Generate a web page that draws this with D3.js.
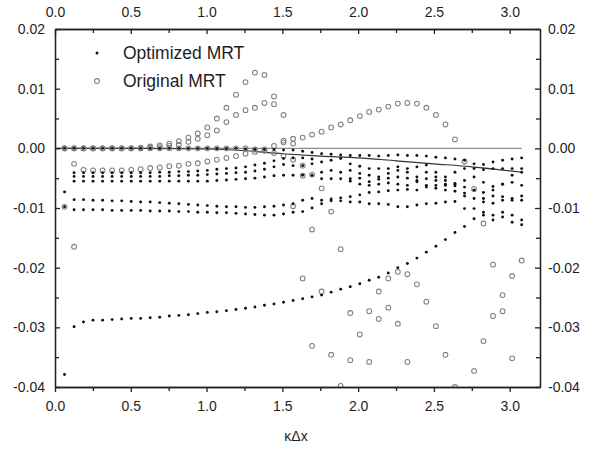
<!DOCTYPE html>
<html>
<head>
<meta charset="utf-8">
<script src="https://cdn.jsdelivr.net/npm/d3@7"></script>
<style>
  body { margin: 0; background: #fff; }
  text { font-family: "Liberation Sans", Arial, sans-serif; fill: #1e1e1e; }
</style>
</head>
<body>
<svg id="chart" width="590" height="450"></svg>
<script>
// kappa * dx grid (49 points)
const kx = [0.063,0.126,0.188,0.251,0.314,0.377,0.440,0.503,0.565,0.628,
            0.691,0.754,0.817,0.880,0.942,1.005,1.068,1.131,1.194,1.257,
            1.319,1.382,1.445,1.508,1.571,1.634,1.696,1.759,1.822,1.885,
            1.948,2.011,2.073,2.136,2.199,2.262,2.325,2.388,2.450,2.513,
            2.576,2.639,2.702,2.765,2.827,2.890,2.953,3.016,3.079];

// Optimized MRT (black dots)
const optTop = [0,0,0,0,0,0,0,0,0,0,
  0,0,0,0,0,0,0,0,0,-0.0001,
  -0.0002,-0.0002,-0.0002,-0.0003,-0.0003,-0.0005,-0.0007,-0.0009,-0.0010,-0.0011,
  -0.0012,-0.0012,-0.0012,-0.0013,-0.0012,-0.0011,-0.0012,-0.0012,-0.0013,-0.0015,
  -0.0016,-0.0018,-0.0020,-0.0026,-0.0027,-0.0023,-0.0020,-0.0018,-0.0016];
const optA = [null,-0.0041,-0.0041,-0.0041,-0.0041,-0.0041,-0.0041,-0.0041,-0.0041,-0.0041,
  -0.0040,-0.0040,-0.0039,-0.0039,-0.0038,-0.0037,-0.0035,-0.0034,-0.0033,-0.0031,
  -0.0028,-0.0025,-0.0021,-0.0017,-0.0016,-0.0016,-0.0018,-0.0023,-0.0020,-0.0017,
  -0.0026,-0.0030,-0.0034,-0.0034,-0.0034,-0.0031,-0.0034,-0.0031,-0.0028,-0.0040,
  -0.0048,-0.0040,-0.0034,-0.0034,-0.0036,-0.0034,-0.0034,-0.0034,-0.0034];
const optB = [null,-0.0047,-0.0047,-0.0047,-0.0047,-0.0047,-0.0047,-0.0047,-0.0047,-0.0047,
  -0.0047,-0.0046,-0.0046,-0.0045,-0.0045,-0.0044,-0.0043,-0.0042,-0.0041,-0.0040,
  -0.0038,-0.0035,-0.0031,-0.0027,-0.0029,-0.0029,-0.0026,-0.0040,-0.0037,-0.0040,
  -0.0037,-0.0042,-0.0045,-0.0048,-0.0042,-0.0037,-0.0040,-0.0048,-0.0040,-0.0048,
  -0.0054,-0.0060,-0.0054,-0.0048,-0.0057,-0.0064,-0.0060,-0.0045,-0.0040];
const optC = [null,-0.0055,-0.0055,-0.0055,-0.0055,-0.0055,-0.0055,-0.0055,-0.0055,-0.0055,
  -0.0055,-0.0055,-0.0055,-0.0055,-0.0055,-0.0055,-0.0054,-0.0053,-0.0052,-0.0051,
  -0.0050,-0.0048,-0.0046,-0.0045,-0.0045,-0.0045,-0.0045,-0.0051,-0.0051,-0.0051,
  -0.0051,-0.0050,-0.0056,-0.0052,-0.0050,-0.0048,-0.0050,-0.0054,-0.0051,-0.0054,
  -0.0060,-0.0063,-0.0065,-0.0070,-0.0074,-0.0070,-0.0060,-0.0057,-0.0062];
const optD = [null,null,null,null,null,null,null,null,null,null,
  null,null,null,null,null,null,null,null,null,null,
  null,null,null,null,null,null,null,null,null,null,
  -0.0055,-0.0060,-0.0062,-0.0060,-0.0058,-0.0060,-0.0062,-0.0056,-0.0062,-0.0062,
  -0.0062,-0.0059,-0.0075,-0.0070,-0.0090,-0.0092,-0.0087,-0.0087,-0.0080];
const optR1 = [-0.0073,-0.0086,-0.0086,-0.0087,-0.0087,-0.0088,-0.0088,-0.0089,-0.0090,-0.0090,
  -0.0091,-0.0092,-0.0093,-0.0094,-0.0095,-0.0096,-0.0097,-0.0098,-0.0098,-0.0099,
  -0.0099,-0.0098,-0.0097,-0.0095,-0.0093,-0.0087,-0.0084,-0.0087,-0.0085,-0.0083,
  -0.0081,-0.0078,-0.0074,-0.0073,-0.0071,-0.0070,-0.0069,-0.0070,-0.0065,-0.0067,
  -0.0070,-0.0072,-0.0080,-0.0084,-0.0084,-0.0080,-0.0081,-0.0084,-0.0087];
const optR2 = [-0.0098,-0.0103,-0.0103,-0.0103,-0.0103,-0.0104,-0.0104,-0.0104,-0.0104,-0.0105,
  -0.0105,-0.0105,-0.0106,-0.0106,-0.0107,-0.0107,-0.0108,-0.0108,-0.0109,-0.0110,
  -0.0111,-0.0112,-0.0112,-0.0110,-0.0107,-0.0106,-0.0100,-0.0093,-0.0088,-0.0088,
  -0.0090,-0.0090,-0.0093,-0.0093,-0.0094,-0.0098,-0.0098,-0.0095,-0.0093,-0.0092,
  -0.0090,-0.0089,-0.0101,-0.0101,-0.0107,-0.0112,-0.0107,-0.0112,-0.0120];
const optLow = [-0.0379,-0.0299,-0.0291,-0.0288,-0.0288,-0.0287,-0.0286,-0.0285,-0.0285,-0.0284,
  -0.0283,-0.0281,-0.0280,-0.0279,-0.0277,-0.0275,-0.0274,-0.0272,-0.0270,-0.0268,
  -0.0266,-0.0263,-0.0261,-0.0258,-0.0255,-0.0252,-0.0249,-0.0246,-0.0241,-0.0236,
  -0.0232,-0.0227,-0.0221,-0.0216,-0.0209,-0.0200,-0.0193,-0.0184,-0.0174,-0.0164,
  -0.0153,-0.0141,-0.0131,-0.0118,-0.0112,-0.0120,-0.0115,-0.0124,-0.0128];

// Original MRT (grey open circles); null = off the plotted range
const origA = [0,0,0,0,0,0,0,0,0.0001,0.0003,
  0.0005,0.0008,0.0012,0.0018,0.0025,0.0035,0.0050,0.0068,0.0090,0.0111,
  0.0127,0.0123,0.0087,0.0013,-0.0097,-0.0218,-0.0331,null,null,null,
  null,null,null,null,null,null,null,null,null,null,
  null,null,null,-0.0373,-0.0323,-0.0281,-0.0273,-0.0352,null];
const origB = [0,0,0,0,0,0,0,0,0,0.0001,
  0.0002,0.0004,0.0006,0.0011,0.0016,0.0022,0.0030,0.0044,0.0056,0.0064,
  0.0068,0.0076,0.0074,0.0056,0.0008,-0.0046,-0.0136,-0.0240,-0.0346,null,
  null,null,null,null,null,null,null,null,null,null,
  null,null,null,null,null,null,null,null,null];
const origC = [0,-0.0026,-0.0036,-0.0037,-0.0037,-0.0037,-0.0037,-0.0036,-0.0035,-0.0033,
  -0.0032,-0.0030,-0.0029,-0.0026,-0.0025,-0.0022,-0.0019,-0.0016,-0.0013,-0.0009,
  -0.0006,-0.0002,0.0004,0.0010,0.0016,0.0018,0.0023,0.0028,0.0035,0.0040,
  0.0047,0.0054,0.0061,0.0065,0.0070,0.0075,0.0076,0.0075,0.0068,0.0056,
  0.0040,0.0015,-0.0022,-0.0068,-0.0126,-0.0195,-0.0246,null,null];
const origD = [0,0,0,0,0,0,0,0,0,0,
  0,0,0,0,0,0,0,0,0,0,
  -0.0002,-0.0004,-0.0008,-0.0013,-0.0019,-0.0029,-0.0044,-0.0067,-0.0106,-0.0169,
  -0.0276,null,null,null,null,null,null,null,null,null,
  null,null,null,null,null,null,null,null,null];
const origE = [null,null,null,null,null,null,null,null,null,null,
  null,null,null,null,null,null,null,null,null,null,
  null,null,null,null,null,null,null,null,null,null,
  -0.0355,-0.0312,-0.0273,-0.0240,-0.0218,-0.0207,-0.0211,-0.0228,-0.0257,-0.0298,
  -0.0346,-0.0400,null,null,null,null,null,null,null];
const origF = [null,null,null,null,null,null,null,null,null,null,
  null,null,null,null,null,null,null,null,null,null,
  null,null,null,null,null,null,null,null,null,-0.0398,
  null,null,-0.0358,-0.0286,-0.0267,-0.0294,-0.0358,null,null,null,
  null,null,null,null,null,null,null,null,null];
const origG = [null,null,null,null,null,null,null,null,null,null,
  null,null,null,null,null,null,null,null,null,null,
  null,null,null,null,null,null,null,null,null,null,
  null,null,null,null,null,null,null,null,null,null,
  null,null,null,null,null,null,null,-0.0214,-0.0188];
const origH = [-0.0098,-0.0165,null,null,null,null,null,null,null,null,
  null,null,null,null,null,null,null,null,null,null,
  null,null,null,null,null,null,null,null,null,null,
  null,null,null,null,null,null,null,null,null,null,
  null,null,null,null,null,null,null,null,null];

// reference curves
const zeroX = [0, 3.08];
const zeroY = [0, 0];
const curveX = [0, 0.5, 1.0, 1.25, 1.5, 1.75, 2.0, 2.25, 2.5, 2.75, 3.08];
const curveY = [0, 0, -0.0001, -0.0004, -0.0009, -0.0013, -0.0016, -0.0021, -0.0026, -0.0031, -0.0040];

const xMajor = [0, 0.5, 1.0, 1.5, 2.0, 2.5, 3.0];
const xMinor = [0.25, 0.75, 1.25, 1.75, 2.25, 2.75];
const yMajor = [-0.04, -0.03, -0.02, -0.01, 0, 0.01, 0.02];
const yMinor = [-0.035, -0.025, -0.015, -0.005, 0.005, 0.015];

const optSeries = [optTop, optA, optB, optC, optD, optR1, optR2, optLow];
const origSeries = [origA, origB, origC, origD, origE, origF, origG, origH];

const svg = d3.select('#chart');
const mLeft = 55, mRight = 540, mTop = 29, mBottom = 387;
const x = d3.scaleLinear().domain([0, 3.2]).range([mLeft, mRight]);
const y = d3.scaleLinear().domain([-0.04, 0.02]).range([mBottom, mTop]);

svg.append('defs').append('clipPath').attr('id', 'plot')
  .append('rect').attr('x', mLeft).attr('y', mTop)
  .attr('width', mRight - mLeft).attr('height', mBottom - mTop);

const plot = svg.append('g').attr('clip-path', 'url(#plot)');

const line = d3.line().x(d => x(d[0])).y(d => y(d[1]));
plot.append('path')
  .attr('d', line(zeroX.map((v, i) => [v, zeroY[i]])))
  .attr('fill', 'none').attr('stroke', '#8c8c8c').attr('stroke-width', 1.1);
plot.append('path')
  .attr('d', line.curve(d3.curveMonotoneX)(curveX.map((v, i) => [v, curveY[i]])))
  .attr('fill', 'none').attr('stroke', '#333').attr('stroke-width', 1.1);

function points(series) {
  return series.flatMap(s => s.map((v, i) => [kx[i], v]).filter(d => d[1] !== null));
}

plot.append('g').selectAll('circle')
  .data(points(origSeries))
  .enter().append('circle')
    .attr('cx', d => x(d[0]))
    .attr('cy', d => y(d[1]))
    .attr('r', 2.4)
    .attr('fill', 'none')
    .attr('stroke', '#808080')
    .attr('stroke-width', 1.05);

plot.append('g').selectAll('circle')
  .data(points(optSeries))
  .enter().append('circle')
    .attr('cx', d => x(d[0]))
    .attr('cy', d => y(d[1]))
    .attr('r', 1.45)
    .attr('fill', '#111');

// axes
function styleAxis(g) {
  g.selectAll('path, line').attr('stroke', '#222').attr('stroke-width', 1.3);
  g.selectAll('text').attr('font-size', '14px').attr('fill', '#1e1e1e')
    .attr('font-family', '"Liberation Sans", Arial, sans-serif');
}
const f1 = d => d.toFixed(1);
const f2 = d => d.toFixed(2);

svg.append('g').attr('transform', `translate(0,${mBottom})`)
  .call(d3.axisBottom(x).tickValues(xMajor).tickSize(5).tickSizeOuter(0).tickPadding(9).tickFormat(f1))
  .call(styleAxis);
svg.append('g').attr('transform', `translate(0,${mBottom})`)
  .call(d3.axisBottom(x).tickValues(xMinor).tickSize(4).tickSizeOuter(0).tickFormat(''))
  .call(styleAxis);
svg.append('g').attr('transform', `translate(0,${mTop})`)
  .call(d3.axisTop(x).tickValues(xMajor).tickSize(-5).tickSizeOuter(0).tickPadding(12).tickFormat(f1))
  .call(styleAxis);
svg.append('g').attr('transform', `translate(0,${mTop})`)
  .call(d3.axisTop(x).tickValues(xMinor).tickSize(-4).tickSizeOuter(0).tickFormat(''))
  .call(styleAxis);
svg.append('g').attr('transform', `translate(${mLeft},0)`)
  .call(d3.axisLeft(y).tickValues(yMajor).tickSize(-5).tickSizeOuter(0).tickPadding(10).tickFormat(f2))
  .call(styleAxis);
svg.append('g').attr('transform', `translate(${mLeft},0)`)
  .call(d3.axisLeft(y).tickValues(yMinor).tickSize(-4).tickSizeOuter(0).tickFormat(''))
  .call(styleAxis);
svg.append('g').attr('transform', `translate(${mRight},0)`)
  .call(d3.axisRight(y).tickValues(yMajor).tickSize(-5).tickSizeOuter(0).tickPadding(8).tickFormat(f2))
  .call(styleAxis);
svg.append('g').attr('transform', `translate(${mRight},0)`)
  .call(d3.axisRight(y).tickValues(yMinor).tickSize(-4).tickSizeOuter(0).tickFormat(''))
  .call(styleAxis);

// x title
svg.append('text').attr('x', 296).attr('y', 441)
  .attr('text-anchor', 'middle').attr('font-size', '14px').text('κΔx');

// legend
const legend = svg.append('g');
legend.append('circle').attr('cx', 97).attr('cy', 53).attr('r', 1.5).attr('fill', '#111');
legend.append('text').attr('x', 123).attr('y', 59).attr('font-size', '17.5px').text('Optimized MRT');
legend.append('circle').attr('cx', 97).attr('cy', 81).attr('r', 2.4)
  .attr('fill', 'none').attr('stroke', '#808080').attr('stroke-width', 1.05);
legend.append('text').attr('x', 123).attr('y', 87).attr('font-size', '17.5px').text('Original MRT');
</script>
</body>
</html>
